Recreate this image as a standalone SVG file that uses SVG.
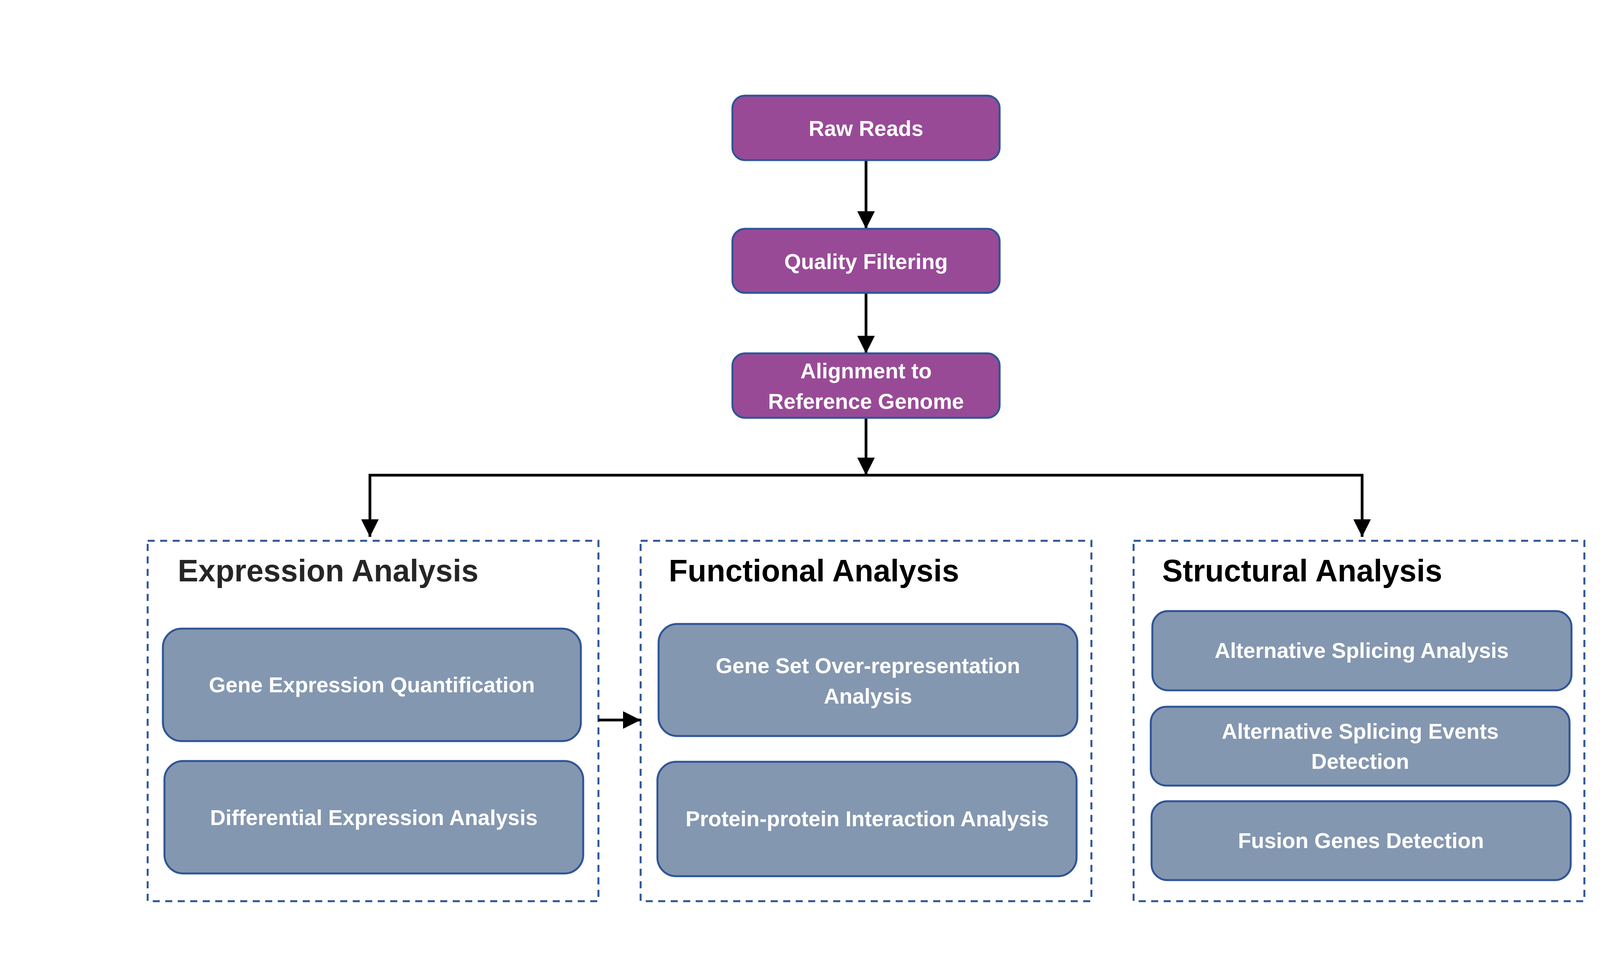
<svg xmlns="http://www.w3.org/2000/svg" width="4405" height="2474" viewBox="0 0 4405 2474">
<style>
.top rect{fill:#994A97;stroke:#2F5597;stroke-width:5}
.sub rect{fill:#8497B0;stroke:#2F5597;stroke-width:5}
.grp rect{fill:none;stroke:#2F5597;stroke-width:5;stroke-dasharray:18 14}
.lbl{font-family:"Liberation Sans",Arial,sans-serif;font-weight:bold;font-size:55px;fill:#FFFFFF;text-anchor:middle}
.ttl{font-family:"Liberation Sans",Arial,sans-serif;font-weight:bold;font-size:79px}
.conn path{fill:none;stroke:#000;stroke-width:7}
</style>
<defs>
<marker id="ah" viewBox="0 0 45 45" refX="45" refY="22.5" markerWidth="45" markerHeight="45" markerUnits="userSpaceOnUse" orient="auto-start-reverse">
<path d="M0,0 L45,22.5 L0,45 Z" fill="#000"/>
</marker>
</defs>
<rect width="4405" height="2474" fill="#FFFFFF"/>

<g id="grp-expression" class="grp">
<rect x="378" y="1385" width="1154" height="923"/>
<text class="ttl" x="455" y="1489" fill="#262626">Expression Analysis</text>
</g>
<g id="grp-functional" class="grp">
<rect x="1640" y="1385" width="1154" height="923"/>
<text class="ttl" x="1712" y="1489" fill="#000000">Functional Analysis</text>
</g>
<g id="grp-structural" class="grp">
<rect x="2902" y="1385" width="1154" height="923"/>
<text class="ttl" x="2975" y="1489" fill="#000000">Structural Analysis</text>
</g>

<g id="connectors" class="conn">
<path d="M2217,410 V586" marker-end="url(#ah)"/>
<path d="M2217,750 V905" marker-end="url(#ah)"/>
<path d="M2217,1070 V1217" marker-end="url(#ah)"/>
<path d="M947,1375 V1217 H3487 V1375" marker-start="url(#ah)" marker-end="url(#ah)"/>
<path d="M1532,1844 H1640" marker-end="url(#ah)"/>
</g>

<g id="raw-reads" class="top">
<rect x="1875" y="245" width="684" height="165" rx="32"/>
<text class="lbl" x="2217" y="348">Raw Reads</text>
</g>
<g id="quality-filtering" class="top">
<rect x="1875" y="586" width="684" height="164" rx="32"/>
<text class="lbl" x="2217" y="689">Quality Filtering</text>
</g>
<g id="alignment" class="top">
<rect x="1875" y="905" width="684" height="165" rx="32"/>
<text class="lbl" x="2217" y="969">Alignment to</text>
<text class="lbl" x="2217" y="1047">Reference Genome</text>
</g>

<g id="gene-expression-quantification" class="sub">
<rect x="417" y="1610" width="1070" height="288" rx="48"/>
<text class="lbl" x="952" y="1773">Gene Expression Quantification</text>
</g>
<g id="differential-expression-analysis" class="sub">
<rect x="421" y="1949" width="1072" height="288" rx="48"/>
<text class="lbl" x="957" y="2113">Differential Expression Analysis</text>
</g>

<g id="gene-set-over-representation" class="sub">
<rect x="1686" y="1598" width="1072" height="287" rx="48"/>
<text class="lbl" x="2222" y="1724">Gene Set Over-representation</text>
<text class="lbl" x="2222" y="1802">Analysis</text>
</g>
<g id="protein-protein-interaction" class="sub">
<rect x="1683" y="1951" width="1073" height="293" rx="48"/>
<text class="lbl" x="2220" y="2116">Protein-protein Interaction Analysis</text>
</g>

<g id="alternative-splicing-analysis" class="sub">
<rect x="2950" y="1565" width="1073" height="203" rx="40"/>
<text class="lbl" x="3486" y="1685">Alternative Splicing Analysis</text>
</g>
<g id="alternative-splicing-events" class="sub">
<rect x="2946" y="1810" width="1072" height="202" rx="40"/>
<text class="lbl" x="3482" y="1892">Alternative Splicing Events</text>
<text class="lbl" x="3482" y="1969">Detection</text>
</g>
<g id="fusion-genes-detection" class="sub">
<rect x="2948" y="2052" width="1073" height="202" rx="40"/>
<text class="lbl" x="3484" y="2172">Fusion Genes Detection</text>
</g>
</svg>
